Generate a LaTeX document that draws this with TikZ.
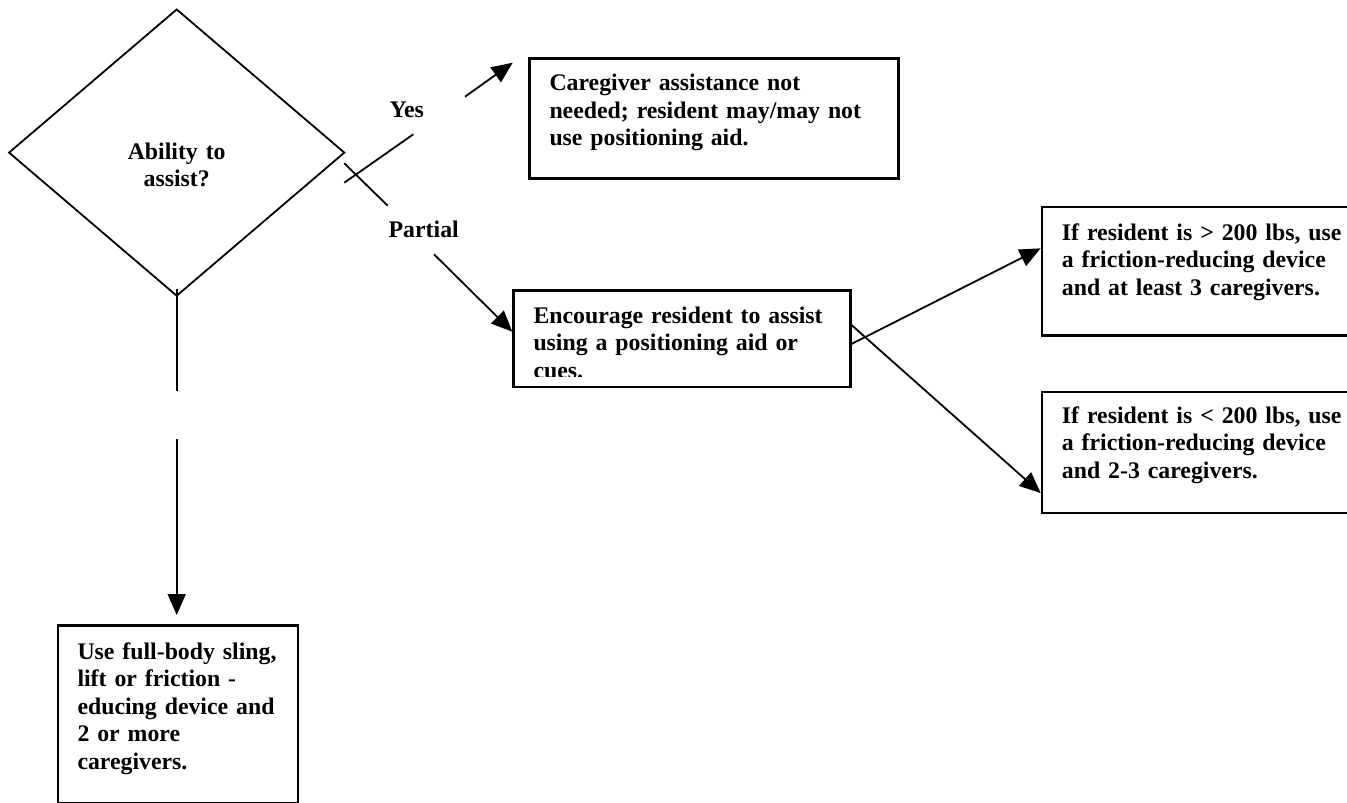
\documentclass[tikz,border=0pt]{standalone}
\usepackage{fontspec}
\setmainfont{Liberation Serif}
\usetikzlibrary{shapes.geometric,arrows.meta,calc}
\tikzset{
  boxnode/.style={draw, line width=2.2pt, inner sep=0pt, anchor=north west},
  txt/.style={anchor=base west, inner sep=0pt, text width=#1, align=left},
  conn/.style={line width=1.8pt},
  arr/.style={line width=1.8pt, -{Triangle[length=21pt,width=18pt]}},
  lbl/.style={anchor=base west, inner sep=0pt}
}
\begin{document}
\begin{tikzpicture}[x=1pt,y=-1pt,font=\bfseries\fontsize{23.8}{27.5}\selectfont]
\useasboundingbox (0,0) rectangle (1347,803);
\clip (0,0) rectangle (1347,803);
\fill[white] (0,0) rectangle (1347,803);

% decision
\node[draw, diamond, line width=1.8pt, inner sep=0pt, minimum width=336pt, minimum height=287pt] (dia) at (176.7,152.6) {};
\node[anchor=base, inner sep=0pt, text width=160pt, align=center] (diatext) at (176.7,159.3) {Ability to\\assist?};

% boxes
\node[boxnode, minimum width=369pt, minimum height=120pt] (yesBox) at (528.3,57.3) {};
\node[txt=360pt] (yesText) at (549.3,90.7) {Caregiver assistance not\\needed; resident may/may not\\use positioning aid.};

\node[boxnode, minimum width=337pt, minimum height=96.4pt] (encBox) at (512.3,289.3) {};
\begin{scope}
\clip (encBox.north west) rectangle ($(encBox.south east)+(0,-11.4)$);
\node[txt=330pt] (encText) at (533.3,323.3) {Encourage resident to assist\\using a positioning aid or\\cues.};
\end{scope}

\node[boxnode, minimum width=330pt, minimum height=128.8pt] (bigBox) at (1040.7,205.5) {};
\node[txt=330pt] (bigText) at (1061.7,240) {If resident is > 200 lbs, use\\a friction-reducing device\\and at least 3 caregivers.};

\node[boxnode, minimum width=330pt, minimum height=120.5pt] (smallBox) at (1040.7,391) {};
\node[txt=330pt] (smallText) at (1061.7,423.3) {If resident is < 200 lbs, use\\a friction-reducing device\\and 2-3 caregivers.};

\node[boxnode, minimum width=240.3pt, minimum height=177.2pt] (fullBox) at (56.7,624.3) {};
\node[txt=230pt] (fullText) at (77.3,659) {Use full-body sling,\\lift or friction -\\educing device and\\2 or more\\caregivers.};

% labels
\node[lbl] (yesLbl) at (389.3,117.8) {Yes};
\node[lbl] (partLbl) at (388.5,237.3) {Partial};

% connector coordinates
\coordinate (yesA) at (344.3,182.7);
\coordinate (yesB) at (413.3,134.3);
\coordinate (yesC) at (465,96.7);
\coordinate (yesTip) at (512.7,62.7);
\coordinate (partA) at (344.3,163.3);
\coordinate (partB) at (387.7,205.7);
\coordinate (partC) at (434,254.3);
\coordinate (partTip) at (encBox.north west |- 0,331.7);
\coordinate (downA) at (176.7,289);
\coordinate (downB) at (176.7,390.7);
\coordinate (downC) at (176.7,439.3);
\coordinate (downTip) at (176.7,615);
\coordinate (bigFrom) at (encBox.east |- 0,344);
\coordinate (bigTip) at (bigBox.west |- 0,248.3);
\coordinate (smallFrom) at (encBox.east |- 0,325);
\coordinate (smallTip) at (smallBox.west |- 0,493);

% connectors
\draw[conn] (yesA) -- (yesB);
\draw[arr] (yesC) -- (yesTip);
\draw[conn] (partA) -- (partB);
\draw[arr] (partC) -- (partTip);
\draw[conn] (downA) -- (downB);
\draw[arr] (downC) -- (downTip);
\draw[arr] (bigFrom) -- (bigTip);
\draw[arr] (smallFrom) -- (smallTip);
\end{tikzpicture}
\end{document}
